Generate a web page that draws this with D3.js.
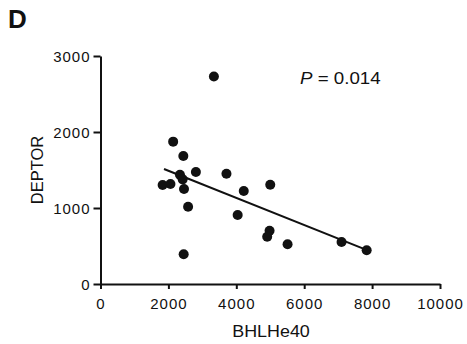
<!DOCTYPE html>
<html><head><meta charset="utf-8">
<script src="https://cdn.jsdelivr.net/npm/d3@7"></script>
<style>body{margin:0;background:#fff}svg{display:block}text{font-family:"Liberation Sans",Arial,sans-serif;fill:#111}</style>
</head><body><div id="chart"></div>
<script>
const bhlhe40 = [3340, 2140, 2440, 2810, 3710, 2340, 1830, 2060, 2420, 2460, 5000, 4220, 2580, 4040, 2450, 4980, 4910, 5510, 7100, 7840];
const deptor  = [2730, 1873, 1684, 1474, 1451, 1438, 1303, 1316, 1377, 1250, 1307, 1224, 1017, 908, 391, 701, 622, 522, 553, 443];
const fitX = [1870, 7870];
const fitY = [1513, 443];
const xTicks = [0, 2000, 4000, 6000, 8000, 10000];
const yTicks = [0, 1000, 2000, 3000];

const W = 467, H = 344;
const svg = d3.select("#chart").append("svg").attr("width", W).attr("height", H);
const x = d3.scaleLinear().domain([0, 10000]).range([100.5, 440]);
const y = d3.scaleLinear().domain([0, 3000]).range([284, 56]);

const xa = svg.append("g").attr("transform", `translate(0,${y(0)})`)
  .call(d3.axisBottom(x).tickValues(xTicks).tickSize(5).tickSizeOuter(0).tickFormat(d3.format("d")));
const ya = svg.append("g").attr("transform", `translate(${x(0)},0)`)
  .call(d3.axisLeft(y).tickValues(yTicks).tickSize(7).tickSizeOuter(0).tickFormat(d3.format("d")));
[xa, ya].forEach(g => {
  g.select(".domain").attr("stroke", "#111").attr("stroke-width", 2);
  g.selectAll(".tick line").attr("stroke", "#111").attr("stroke-width", 2);
  g.selectAll(".tick text").attr("font-size", 15).attr("fill", "#111")
   .style("letter-spacing", "1px")
   .style("font-family", "'Liberation Sans',Arial,sans-serif");
});
xa.selectAll(".tick text").attr("y", 25).attr("dy", 0);
ya.selectAll(".tick text").attr("x", -10).attr("dy", "0.36em");

svg.append("line")
  .attr("x1", x(fitX[0])).attr("y1", y(fitY[0]))
  .attr("x2", x(fitX[1])).attr("y2", y(fitY[1]))
  .attr("stroke", "#111").attr("stroke-width", 2);

svg.selectAll("circle.pt").data(bhlhe40).enter().append("circle")
  .attr("class", "pt")
  .attr("cx", (d, i) => x(d)).attr("cy", (d, i) => y(deptor[i]))
  .attr("r", 5).attr("fill", "#111");

svg.append("text").attr("x", 8).attr("y", 28).attr("font-size", 26).attr("font-weight", "bold").text("D");
const pt = svg.append("text").attr("transform", "translate(300,84) scale(1.17,1)").attr("font-size", 16);
pt.append("tspan").attr("font-style", "italic").text("P");
pt.append("tspan").text(" = 0.014");
svg.append("text").attr("transform", "translate(271,337) scale(1.12,1)").attr("text-anchor", "middle").attr("font-size", 16).text("BHLHe40");
svg.append("text").attr("transform", "translate(42.5,170) rotate(-90)").attr("text-anchor", "middle").attr("font-size", 16.5).text("DEPTOR");
</script></body></html>
